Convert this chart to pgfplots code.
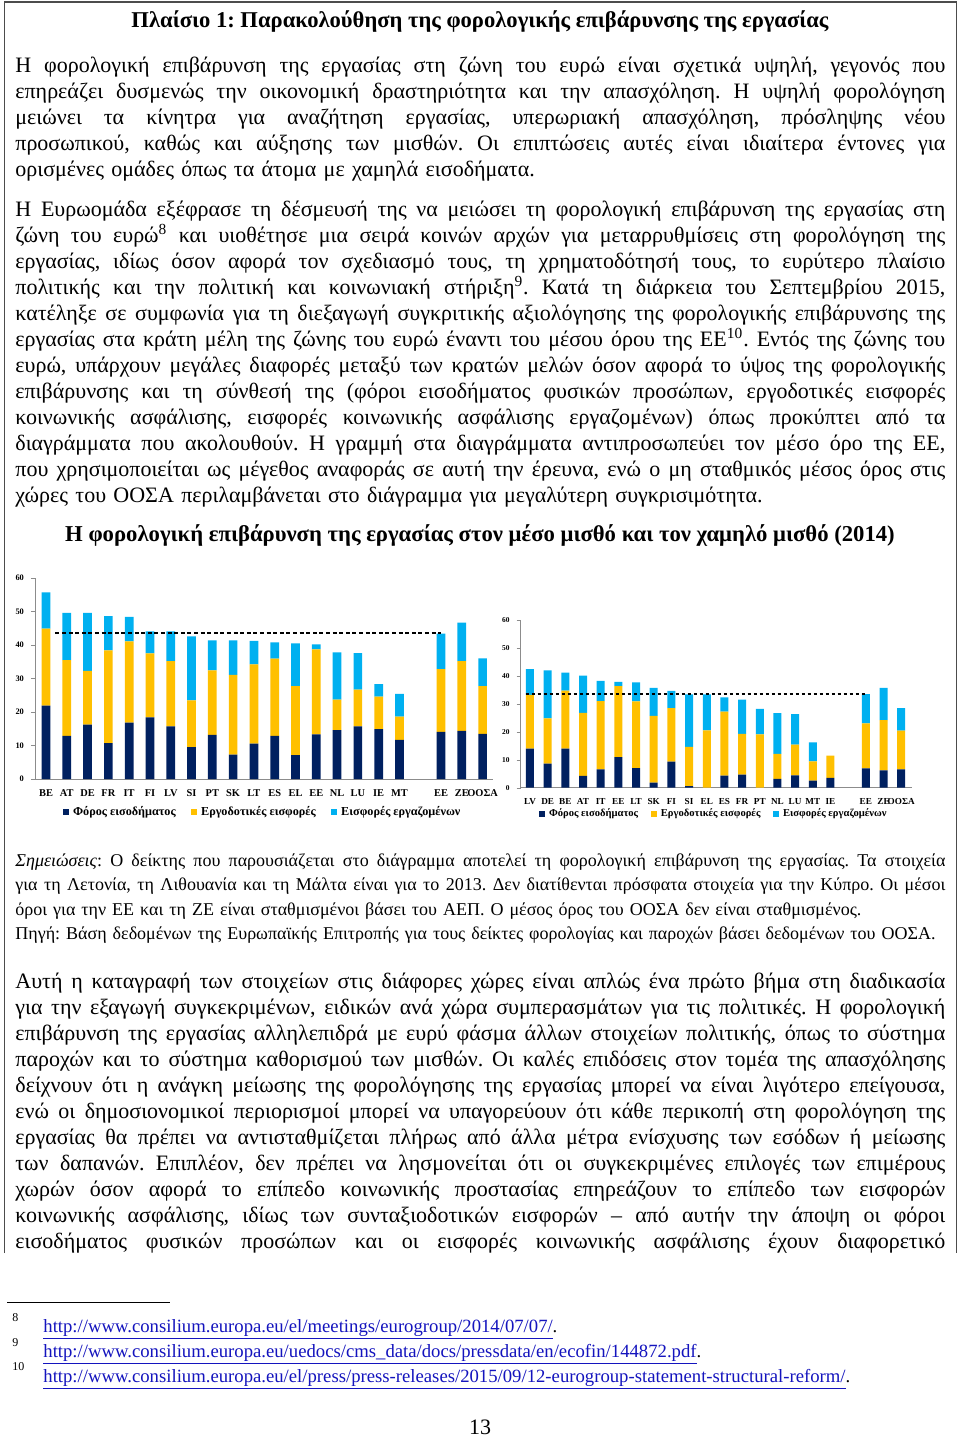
\documentclass[border=0pt]{standalone}
\usepackage{fontspec}
\setmainfont{Liberation Serif}
\usepackage{pgfplots}
\pgfplotsset{compat=1.18}
\usepackage{pgfplotstable}
\definecolor{cInc}{RGB}{0,32,96}
\definecolor{cEmp}{RGB}{255,192,0}
\definecolor{cEe}{RGB}{0,176,240}
\definecolor{linkblue}{RGB}{20,20,190}
\newcommand{\J}[1]{\leavevmode\hbox to 465pt{\spaceskip=0.25em plus 1fil minus 0.04em\relax #1}}
\newcommand{\Lf}[1]{\leavevmode\hbox to 465pt{#1\hfil}}
\newcommand{\bodyfont}{\fontsize{11}{13}\selectfont}
\newcommand{\notefont}{\fontsize{9}{12.3}\selectfont}
\newcommand{\lnk}[1]{\textcolor{linkblue}{\underline{#1}}}

% x  income employer employee
\pgfplotstableread{
x inc emp ee
0 21.9 23.0 10.8
1 12.9 22.6 14.1
2 16.2 16.1 17.3
3 10.7 27.7 10.2
4 16.8 24.3 7.3
5 18.4 19.1 6.6
6 15.7 19.5 8.9
7 9.5 14.0 19.1
8 13.2 19.2 9.0
9 7.3 23.8 10.3
10 10.6 23.6 7.0
11 12.9 23.0 4.9
12 7.1 20.6 12.8
13 13.3 25.4 1.5
14 14.6 9.1 14.1
15 15.7 11.0 10.9
16 14.9 9.7 3.7
17 11.7 6.9 6.8
19 14.1 18.7 10.6
20 14.4 20.8 11.5
21 13.5 14.2 8.3
}\leftdata

\pgfplotstableread{
x inc emp ee
0 14.0 19.2 9.2
1 8.6 16.2 17.2
2 14.0 20.7 6.5
3 4.2 22.6 13.3
4 6.6 24.4 7.2
5 10.9 25.4 1.6
6 7.0 23.9 6.8
7 1.8 23.9 10.0
8 9.3 19.2 6.1
9 0.6 14.0 18.8
10 0.0 20.5 12.9
11 4.3 22.9 5.1
12 4.7 14.6 12.2
13 0.0 19.1 9.1
14 3.2 8.9 14.6
15 4.4 11.0 10.9
16 2.5 6.9 6.8
17 3.5 8.0 0.0
19 6.9 16.1 10.5
20 6.2 18.0 11.5
21 6.6 13.8 8.1
}\rightdata

\begin{document}
\frenchspacing
\begin{tikzpicture}
\path[use as bounding box] (0,0) rectangle (480pt,-720pt);
\fill[white] (0,0) rectangle (480pt,-720pt);
\draw[line width=0.7pt, black!70] (2.2pt,-626.5pt) -- (2.2pt,-1pt) -- (478.2pt,-1pt) -- (478.2pt,-626.5pt);

\node[anchor=base, inner sep=0pt, font=\bfseries\fontsize{11.3}{13}\selectfont] at (240pt,-13.5pt)
 {Πλαίσιο 1: Παρακολούθηση της φορολογικής επιβάρυνσης της εργασίας};

\node[anchor=base west, inner sep=0pt, text width=465pt, align=left, font=\bodyfont] at (7.5pt,-36pt) {%
\J{Η φορολογική επιβάρυνση της εργασίας στη ζώνη του ευρώ είναι σχετικά υψηλή, γεγονός που}\\
\J{επηρεάζει δυσμενώς την οικονομική δραστηριότητα και την απασχόληση. Η υψηλή φορολόγηση}\\
\J{μειώνει τα κίνητρα για αναζήτηση εργασίας, υπερωριακή απασχόληση, πρόσληψης νέου}\\
\J{προσωπικού, καθώς και αύξησης των μισθών. Οι επιπτώσεις αυτές είναι ιδιαίτερα έντονες για}\\
\Lf{ορισμένες ομάδες όπως τα άτομα με χαμηλά εισοδήματα.}};

\node[anchor=base west, inner sep=0pt, text width=465pt, align=left, font=\bodyfont] at (7.5pt,-108pt) {%
\J{Η Ευρωομάδα εξέφρασε τη δέσμευσή της να μειώσει τη φορολογική επιβάρυνση της εργασίας στη}\\
\J{ζώνη του ευρώ\textsuperscript{8} και υιοθέτησε μια σειρά κοινών αρχών για μεταρρυθμίσεις στη φορολόγηση της}\\
\J{εργασίας, ιδίως όσον αφορά τον σχεδιασμό τους, τη χρηματοδότησή τους, το ευρύτερο πλαίσιο}\\
\J{πολιτικής και την πολιτική και κοινωνιακή στήριξη\textsuperscript{9}. Κατά τη διάρκεια του Σεπτεμβρίου 2015,}\\
\J{κατέληξε σε συμφωνία για τη διεξαγωγή συγκριτικής αξιολόγησης της φορολογικής επιβάρυνσης της}\\
\J{εργασίας στα κράτη μέλη της ζώνης του ευρώ έναντι του μέσου όρου της ΕΕ\textsuperscript{10}. Εντός της ζώνης του}\\
\J{ευρώ, υπάρχουν μεγάλες διαφορές μεταξύ των κρατών μελών όσον αφορά το ύψος της φορολογικής}\\
\J{επιβάρυνσης και τη σύνθεσή της (φόροι εισοδήματος φυσικών προσώπων, εργοδοτικές εισφορές}\\
\J{κοινωνικής ασφάλισης, εισφορές κοινωνικής ασφάλισης εργαζομένων) όπως προκύπτει από τα}\\
\J{διαγράμματα που ακολουθούν. Η γραμμή στα διαγράμματα αντιπροσωπεύει τον μέσο όρο της ΕΕ,}\\
\J{που χρησιμοποιείται ως μέγεθος αναφοράς σε αυτή την έρευνα, ενώ ο μη σταθμικός μέσος όρος στις}\\
\Lf{χώρες του ΟΟΣΑ περιλαμβάνεται στο διάγραμμα για μεγαλύτερη συγκρισιμότητα.}};

\node[anchor=base, inner sep=0pt, font=\bfseries\fontsize{11.35}{13}\selectfont] at (240pt,-270.5pt)
 {Η φορολογική επιβάρυνση της εργασίας στον μέσο μισθό και τον χαμηλό μισθό (2014)};

% Left chart
\begin{axis}[
 at={(17.5pt,-389.5pt)}, anchor=south west, scale only axis, width=229pt, height=100.5pt,
 ybar stacked, bar width=4.35pt,
 xmin=-0.53, xmax=21.5, ymin=0, ymax=60, ytick={0,10,20,30,40,50,60},
 xtick={0,1,2,3,4,5,6,7,8,9,10,11,12,13,14,15,16,17,19,20,21},
 xticklabels={BE,AT,DE,FR,IT,FI,LV,SI,PT,SK,LT,ES,EL,EE,NL,LU,IE,MT,ΕΕ,ΖΕ,ΟΟΣΑ},
 axis x line*=bottom, axis y line*=left, axis line style={black!45},
 ytick style={black!45}, xtick style={draw=none}, tick align=outside, major tick length=2pt,
 yticklabel style={font=\bfseries\fontsize{4.2}{5}\selectfont},
 xticklabel style={font=\bfseries\fontsize{5.2}{6}\selectfont},
 /pgf/number format/assume math mode=true,
 legend columns=3,
 legend style={draw=none, fill=none, at={(0.499,-0.164)}, anchor=center,
   font=\bfseries\fontsize{6.1}{7}\selectfont, inner sep=0pt,
   /tikz/every even column/.append style={column sep=5.5pt}},
 legend image code/.code={\fill[#1] (0pt,-1.6pt) rectangle (3.2pt,1.6pt);},
]
\addplot[fill=cInc, draw=none] table[x=x, y=inc] {\leftdata};
\addplot[fill=cEmp, draw=none] table[x=x, y=emp] {\leftdata};
\addplot[fill=cEe, draw=none] table[x=x, y=ee] {\leftdata};
\legend{Φόρος εισοδήματος, Εργοδοτικές εισφορές, Εισφορές εργαζομένων}
\end{axis}
\begin{axis}[
 at={(17.5pt,-389.5pt)}, anchor=south west, scale only axis, width=229pt, height=100.5pt,
 xmin=-0.53, xmax=21.5, ymin=0, ymax=60, hide axis]
\addplot[black, line width=1pt, dash pattern=on 2pt off 1.3pt] coordinates {(0.45,43.6) (19,43.6)};
\end{axis}

% Right chart
\begin{axis}[
 at={(260.3pt,-393.85pt)}, anchor=south west, scale only axis, width=195.6pt, height=83.85pt,
 ybar stacked, bar width=4pt,
 xmin=-0.53, xmax=21.6, ymin=0, ymax=60, ytick={0,10,20,30,40,50,60},
 xtick={0,1,2,3,4,5,6,7,8,9,10,11,12,13,14,15,16,17,19,20,21},
 xticklabels={LV,DE,BE,AT,IT,EE,LT,SK,FI,SI,EL,ES,FR,PT,NL,LU,MT,IE,ΕΕ,ΖΕ,ΟΟΣΑ},
 axis x line*=bottom, axis y line*=left, axis line style={black!45},
 ytick style={black!45}, xtick style={draw=none}, tick align=outside, major tick length=2pt,
 yticklabel style={font=\bfseries\fontsize{3.7}{4.5}\selectfont},
 xticklabel style={font=\bfseries\fontsize{4.6}{5.5}\selectfont},
 /pgf/number format/assume math mode=true,
 legend columns=3,
 legend style={draw=none, fill=none, at={(0.497,-0.157)}, anchor=center,
   font=\bfseries\fontsize{5.3}{6.5}\selectfont, inner sep=0pt,
   /tikz/every even column/.append style={column sep=4.5pt}},
 legend image code/.code={\fill[#1] (0pt,-1.4pt) rectangle (2.8pt,1.4pt);},
]
\addplot[fill=cInc, draw=none] table[x=x, y=inc] {\rightdata};
\addplot[fill=cEmp, draw=none] table[x=x, y=emp] {\rightdata};
\addplot[fill=cEe, draw=none] table[x=x, y=ee] {\rightdata};
\legend{Φόρος εισοδήματος, Εργοδοτικές εισφορές, Εισφορές εργαζομένων}
\end{axis}
\begin{axis}[
 at={(260.3pt,-393.85pt)}, anchor=south west, scale only axis, width=195.6pt, height=83.85pt,
 xmin=-0.53, xmax=21.6, ymin=0, ymax=60, hide axis]
\addplot[black, line width=0.9pt, dash pattern=on 1.8pt off 1.2pt] coordinates {(-0.25,33.6) (19,33.6)};
\end{axis}

% Notes
\node[anchor=base west, inner sep=0pt, text width=465pt, align=left, font=\notefont] at (7.5pt,-433pt) {%
\J{\textit{Σημειώσεις}: Ο δείκτης που παρουσιάζεται στο διάγραμμα αποτελεί τη φορολογική επιβάρυνση της εργασίας. Τα στοιχεία}\\
\J{για τη Λετονία, τη Λιθουανία και τη Μάλτα είναι για το 2013. Δεν διατίθενται πρόσφατα στοιχεία για την Κύπρο. Οι μέσοι}\\
\Lf{όροι για την ΕΕ και τη ΖΕ είναι σταθμισμένοι βάσει του ΑΕΠ. Ο μέσος όρος του ΟΟΣΑ δεν είναι σταθμισμένος.}\\
\Lf{Πηγή: Βάση δεδομένων της Ευρωπαϊκής Επιτροπής για τους δείκτες φορολογίας και παροχών βάσει δεδομένων του ΟΟΣΑ.}};

\node[anchor=base west, inner sep=0pt, text width=465pt, align=left, font=\bodyfont] at (7.5pt,-494pt) {%
\J{Αυτή η καταγραφή των στοιχείων στις διάφορες χώρες είναι απλώς ένα πρώτο βήμα στη διαδικασία}\\
\J{για την εξαγωγή συγκεκριμένων, ειδικών ανά χώρα συμπερασμάτων για τις πολιτικές. Η φορολογική}\\
\J{επιβάρυνση της εργασίας αλληλεπιδρά με ευρύ φάσμα άλλων στοιχείων πολιτικής, όπως το σύστημα}\\
\J{παροχών και το σύστημα καθορισμού των μισθών. Οι καλές επιδόσεις στον τομέα της απασχόλησης}\\
\J{δείχνουν ότι η ανάγκη μείωσης της φορολόγησης της εργασίας μπορεί να είναι λιγότερο επείγουσα,}\\
\J{ενώ οι δημοσιονομικοί περιορισμοί μπορεί να υπαγορεύουν ότι κάθε περικοπή στη φορολόγηση της}\\
\J{εργασίας θα πρέπει να αντισταθμίζεται πλήρως από άλλα μέτρα ενίσχυσης των εσόδων ή μείωσης}\\
\J{των δαπανών. Επιπλέον, δεν πρέπει να λησμονείται ότι οι συγκεκριμένες επιλογές των επιμέρους}\\
\J{χωρών όσον αφορά το επίπεδο κοινωνικής προστασίας επηρεάζουν το επίπεδο των εισφορών}\\
\J{κοινωνικής ασφάλισης, ιδίως των συνταξιοδοτικών εισφορών – από αυτήν την άποψη οι φόροι}\\
\J{εισοδήματος φυσικών προσώπων και οι εισφορές κοινωνικής ασφάλισης έχουν διαφορετικό}};

% Footnotes
\draw[line width=0.5pt, black] (3.5pt,-651pt) -- (85pt,-651pt);
\node[anchor=base west, inner sep=0pt, font=\fontsize{6}{6}\selectfont] at (6pt,-660.5pt) {8};
\node[anchor=base west, inner sep=0pt, font=\fontsize{6}{6}\selectfont] at (6pt,-673pt) {9};
\node[anchor=base west, inner sep=0pt, font=\fontsize{6}{6}\selectfont] at (6pt,-685pt) {10};
\node[anchor=base west, inner sep=0pt, font=\fontsize{9.35}{10}\selectfont] at (21.5pt,-666pt)
 {\lnk{http://www.consilium.europa.eu/el/meetings/eurogroup/2014/07/07/}.};
\node[anchor=base west, inner sep=0pt, font=\fontsize{9.35}{10}\selectfont] at (21.5pt,-678.5pt)
 {\lnk{http://www.consilium.europa.eu/uedocs/cms\_data/docs/pressdata/en/ecofin/144872.pdf}.};
\node[anchor=base west, inner sep=0pt, font=\fontsize{9.35}{10}\selectfont] at (21.5pt,-691pt)
 {\lnk{http://www.consilium.europa.eu/el/press/press-releases/2015/09/12-eurogroup-statement-structural-reform/}.};

\node[anchor=base, inner sep=0pt, font=\fontsize{11}{11}\selectfont] at (240pt,-717pt) {13};
\end{tikzpicture}
\end{document}
